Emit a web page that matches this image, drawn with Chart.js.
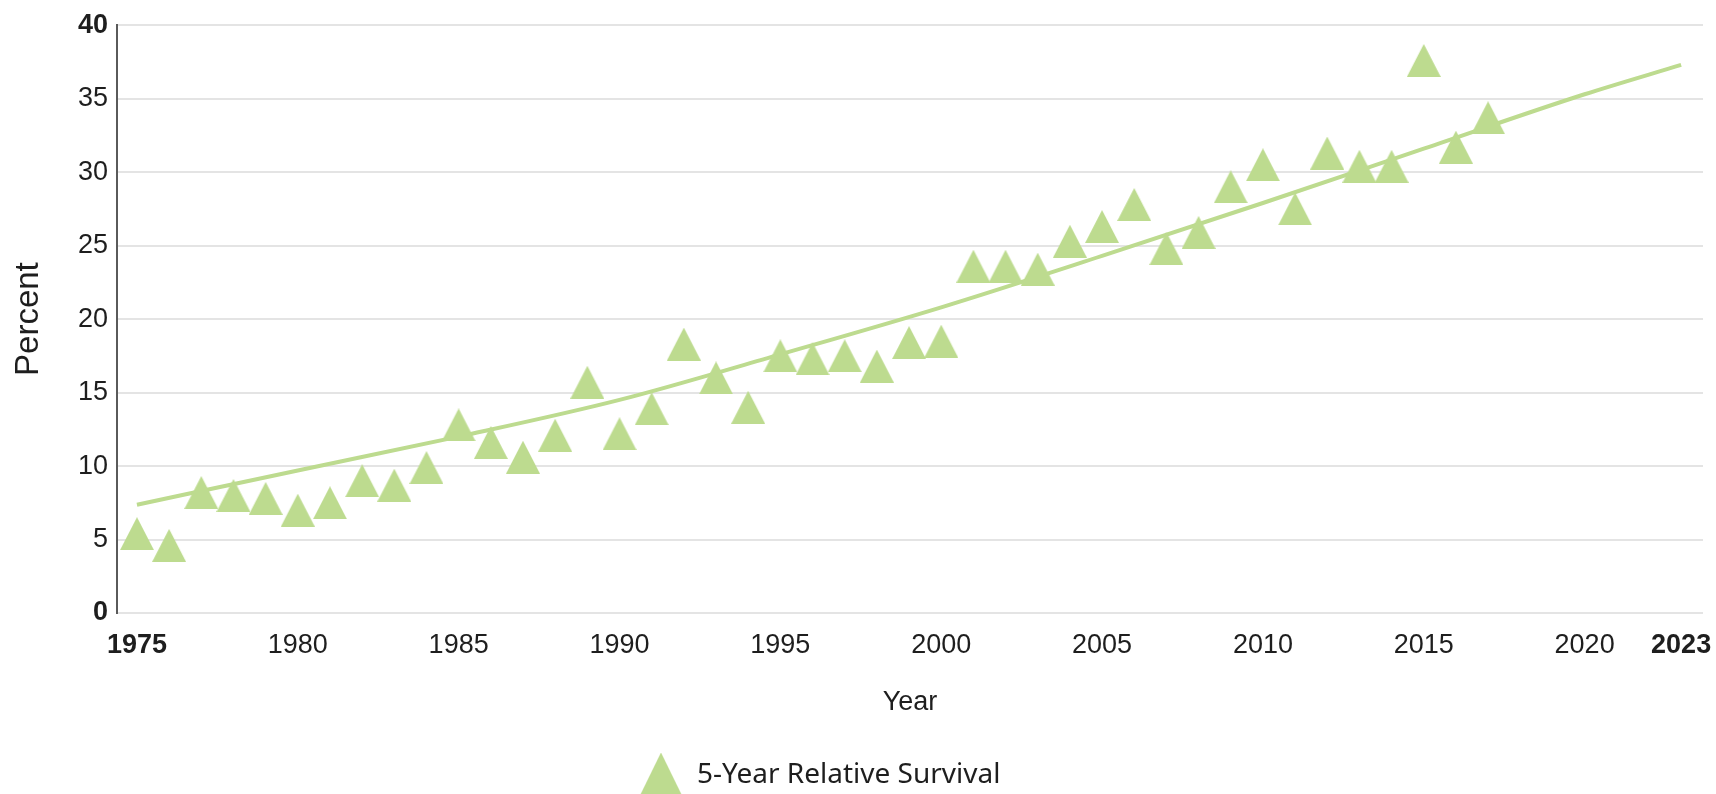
<!DOCTYPE html>
<html>
<head>
<meta charset="utf-8">
<script src="https://cdn.jsdelivr.net/npm/chart.js@4.4.1/dist/chart.umd.min.js"></script>
<style>
html,body{margin:0;padding:0;background:#fff;}
#wrap{width:1716px;height:794px;position:relative;}
</style>
</head>
<body>
<div id="wrap"><canvas id="c" width="1716" height="794"></canvas></div>
<script>
// ---- data ----
const years = [1975,1976,1977,1978,1979,1980,1981,1982,1983,1984,1985,1986,1987,1988,1989,1990,1991,1992,1993,1994,1995,1996,1997,1998,1999,2000,2001,2002,2003,2004,2005,2006,2007,2008,2009,2010,2011,2012,2013,2014,2015,2016,2017];
const survival = [5.4,4.6,8.2,8.0,7.8,7.0,7.5,9.0,8.7,9.9,12.8,11.6,10.6,12.1,15.7,12.2,13.9,18.3,16.0,14.0,17.5,17.3,17.5,16.8,18.4,18.5,23.6,23.6,23.4,25.3,26.3,27.8,24.8,25.9,29.0,30.5,27.5,31.3,30.4,30.4,37.6,31.7,33.7];
const trendYears = [1975,1980,1985,1990,1995,2000,2005,2010,2015,2020,2023];
const trendValues = [7.37,9.7,12.0,14.5,17.6,20.8,24.3,27.9,31.6,35.3,37.3];
const xTickValues = [1975,1980,1985,1990,1995,2000,2005,2010,2015,2020,2023];
const xTickLabels = ['1975','1980','1985','1990','1995','2000','2005','2010','2015','2020','2023'];
const yTickValues = [0,5,10,15,20,25,30,35,40];
const seriesLabel = '5-Year Relative Survival';
const xTitle = 'Year';
const yTitle = 'Percent';

const GREEN = '#bddb8f';
const TEXT = '#1e1e1e';
const SANS = "'Liberation Sans',Arial,sans-serif";

function triangleCanvas(w, h, color) {
  const cv = document.createElement('canvas');
  cv.width = w; cv.height = h;
  const g = cv.getContext('2d');
  g.fillStyle = color;
  g.beginPath();
  g.moveTo(w / 2, 0);
  g.lineTo(w, h);
  g.lineTo(0, h);
  g.closePath();
  g.fill();
  return cv;
}
const pointTri = triangleCanvas(34, 33, GREEN);
const legendTri = triangleCanvas(44, 45, GREEN);

const LEGEND_LEFT = 639;
const LEGEND_TEXT_MID = 775;

const legendMover = {
  id: 'legendMover',
  afterLayout(chart) {
    const lg = chart.legend;
    if (!lg || !lg.legendHitBoxes || !lg.legendHitBoxes.length) return;
    const hb = lg.legendHitBoxes[0];
    const wantCenter = LEGEND_LEFT + hb.width / 2;
    const shift = wantCenter - (lg.left + lg.right) / 2;
    lg.left += shift; lg.right += shift;
    const pad = lg.options.labels.padding;
    const fs = lg.options.labels.font.size;
    const h = lg.height;
    lg.top = LEGEND_TEXT_MID - pad - fs / 2;
    lg.bottom = lg.top + h;
  }
};

const lastX = xTickValues.length - 1;
const lastY = yTickValues.length - 1;

new Chart(document.getElementById('c'), {
  data: {
    datasets: [
      {
        type: 'scatter',
        label: seriesLabel,
        data: years.map((y, i) => ({x: y, y: survival[i]})),
        pointStyle: pointTri,
        pointRadius: 17,
        backgroundColor: GREEN,
        borderColor: GREEN,
        order: 1
      },
      {
        type: 'line',
        label: 'Trend',
        data: trendYears.map((y, i) => ({x: y, y: trendValues[i]})),
        borderColor: GREEN,
        borderWidth: 4,
        pointRadius: 0,
        fill: false,
        cubicInterpolationMode: 'monotone',
        order: 2
      }
    ]
  },
  plugins: [legendMover],
  options: {
    responsive: false,
    animation: false,
    devicePixelRatio: 1,
    layout: {autoPadding: false, padding: {top: 24, right: 13, left: 0, bottom: 0}},
    plugins: {
      tooltip: {enabled: false},
      legend: {
        display: true,
        position: 'bottom',
        labels: {
          usePointStyle: true,
          pointStyle: legendTri,
          pointStyleWidth: 44,
          padding: 10,
          color: TEXT,
          font: {family: "'Noto Sans',sans-serif", size: 28},
          filter: (item) => item.datasetIndex === 0
        }
      }
    },
    scales: {
      x: {
        type: 'linear',
        min: 1974.38,
        max: 2023.68,
        afterBuildTicks: (s) => { s.ticks = xTickValues.map(v => ({value: v})); },
        afterFit: (s) => {
          const lh = s.chart.legend ? s.chart.legend.height : 48;
          s.height = 794 - 613 - lh;
          s.paddingLeft = 0; s.paddingRight = 0;
        },
        grid: {display: false, drawTicks: false},
        border: {display: false},
        ticks: {
          autoSkip: false,
          maxRotation: 0,
          padding: 16,
          color: TEXT,
          font: (ctx) => ({family: SANS, size: 27, weight: (ctx.index === 0 || ctx.index === lastX) ? 'bold' : 'normal'}),
          callback: (v, i) => xTickLabels[i]
        },
        title: {
          display: true,
          text: xTitle,
          color: TEXT,
          font: {family: SANS, size: 27},
          padding: {top: 0, bottom: 27}
        }
      },
      y: {
        min: 0,
        max: 40,
        afterBuildTicks: (s) => { s.ticks = yTickValues.map(v => ({value: v})); },
        afterFit: (s) => { s.width = 117; },
        grid: {color: '#e4e4e4', lineWidth: 2, drawTicks: false},
        border: {display: true, color: '#5a5a5a', width: 2},
        ticks: {
          padding: 9,
          color: TEXT,
          font: (ctx) => ({family: SANS, size: 27, weight: (ctx.index === 0 || ctx.index === lastY) ? 'bold' : 'normal'})
        },
        title: {
          display: true,
          text: yTitle,
          color: TEXT,
          font: {family: SANS, size: 33},
          padding: {top: 9, bottom: 0}
        }
      }
    }
  }
});
</script>
</body>
</html>
